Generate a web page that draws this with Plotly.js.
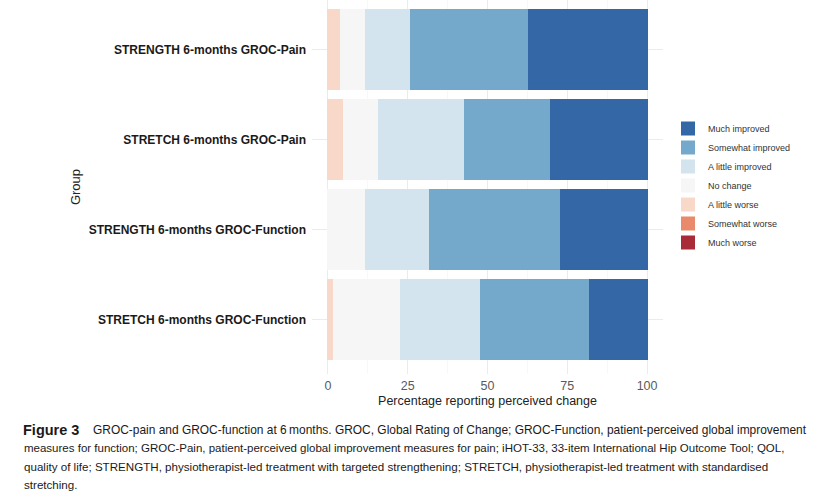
<!DOCTYPE html>
<html>
<head>
<meta charset="utf-8">
<script src="https://cdn.plot.ly/plotly-3.0.1.min.js"></script>
<style>
  html, body { margin: 0; padding: 0; background: #ffffff; }
  #chart { width: 838px; height: 504px; }
</style>
</head>
<body>
<div id="chart"></div>
<script>
// Groups, top to bottom
const groups = [
  'STRENGTH 6-months GROC-Pain',
  'STRETCH 6-months GROC-Pain',
  'STRENGTH 6-months GROC-Function',
  'STRETCH 6-months GROC-Function'
];

// Percentage of patients in each GROC response category, per group
const muchWorse        = [0, 0, 0, 0];
const somewhatWorse    = [0, 0, 0, 0];
const littleWorse      = [4, 5, 0, 2];
const noChange         = [8, 11, 12, 21];
const littleImproved   = [14, 27, 20, 25];
const somewhatImproved = [37, 27, 41, 34];
const muchImproved     = [37, 30, 27, 18];

const responseLabels = [
  'Much worse', 'Somewhat worse', 'A little worse', 'No change',
  'A little improved', 'Somewhat improved', 'Much improved'
];
const responseValues = [
  muchWorse, somewhatWorse, littleWorse, noChange,
  littleImproved, somewhatImproved, muchImproved
];
const responseColors = [
  '#a92b37', '#e88a6b', '#f8d9c9', '#f6f6f6',
  '#d3e4ef', '#75a9cb', '#3367a5'
];

const xTicks = [0, 25, 50, 75, 100];

// Outline in the fill colour so the legend keys come out larger
const traces = responseLabels.map((name, i) => ({
  type: 'bar',
  orientation: 'h',
  name: name,
  y: groups,
  x: responseValues[i],
  marker: { color: responseColors[i], line: { width: 2, color: responseColors[i] } },
  hoverinfo: 'skip'
}));

// Plot area in pixels: x 312..663, y 0..374
const L = 312, R = 663, T = 0, B = 374;
const px = x => (x - L) / (R - L);
const py = y => 1 - (y - T) / (B - T);

const captionFont = { family: 'Liberation Sans, Arial, sans-serif', size: 11.55, color: '#1a1a1a' };
const captionLines = [
  { x: 91,  y: 430, size: 11.95, text: 'GROC-pain and GROC-function at 6\u2009months. GROC, Global Rating of Change; GROC-Function, patient-perceived global improvement' },
  { x: 22,  y: 448, size: 11.5,  text: 'measures for function; GROC-Pain, patient-perceived global improvement measures for pain; iHOT-33, 33-item International Hip Outcome Tool; QOL,' },
  { x: 22,  y: 466, size: 11.6,  text: 'quality of life; STRENGTH, physiotherapist-led treatment with targeted strengthening; STRETCH, physiotherapist-led treatment with standardised' },
  { x: 22,  y: 484, size: 11.6,  text: 'stretching.' }
];

const annotations = [
  {
    xref: 'paper', yref: 'paper', x: px(21), y: py(430),
    xanchor: 'left', yanchor: 'middle', showarrow: false,
    text: '<b>Figure 3</b>',
    font: Object.assign({}, captionFont, { size: 14.5 })
  }
].concat(captionLines.map(l => ({
  xref: 'paper', yref: 'paper', x: px(l.x), y: py(l.y),
  xanchor: 'left', yanchor: 'middle', showarrow: false,
  text: l.text, font: Object.assign({}, captionFont, { size: l.size })
})));

const layout = {
  width: 838,
  height: 504,
  margin: { l: L, r: 838 - R, t: T, b: 504 - B, pad: 0 },
  paper_bgcolor: '#ffffff',
  plot_bgcolor: '#ffffff',
  barmode: 'stack',
  bargap: 0.122,
  font: { family: 'Liberation Sans, Arial, sans-serif', color: '#222222' },
  xaxis: {
    range: [-5, 105],
    tickvals: xTicks,
    ticktext: xTicks.map(String),
    ticks: '',
    showline: false,
    zeroline: false,
    showgrid: true,
    gridcolor: '#ebebeb',
    gridwidth: 1,
    minor: { dtick: 12.5, tick0: 0, showgrid: true, gridcolor: '#f3f3f3', gridwidth: 0.6 },
    tickfont: { size: 12.5, color: '#5a5a5a' },
    ticklabelstandoff: 2,
    title: { text: 'Percentage reporting perceived change', font: { size: 12.5, color: '#222222' }, standoff: 4 },
    fixedrange: true
  },
  yaxis: {
    type: 'category',
    categoryorder: 'array',
    categoryarray: groups,
    range: [3.6, -0.55],
    ticks: '',
    showline: false,
    zeroline: false,
    showgrid: true,
    gridcolor: '#ebebeb',
    gridwidth: 1,
    tickfont: { size: 12, color: '#1a1a1a', weight: 'bold' },
    ticklabelstandoff: 5,
    title: { text: 'Group', font: { size: 13, color: '#222222' }, standoff: 5 },
    fixedrange: true
  },
  showlegend: true,
  legend: {
    traceorder: 'reversed',
    x: px(668),
    y: py(114),
    xanchor: 'left',
    yanchor: 'top',
    bgcolor: 'rgba(0,0,0,0)',
    font: { size: 9, color: '#333333' },
    itemclick: false,
    itemdoubleclick: false
  },
  annotations: annotations
};

Plotly.newPlot('chart', traces, layout, { displayModeBar: false, staticPlot: true });
</script>
</body>
</html>
